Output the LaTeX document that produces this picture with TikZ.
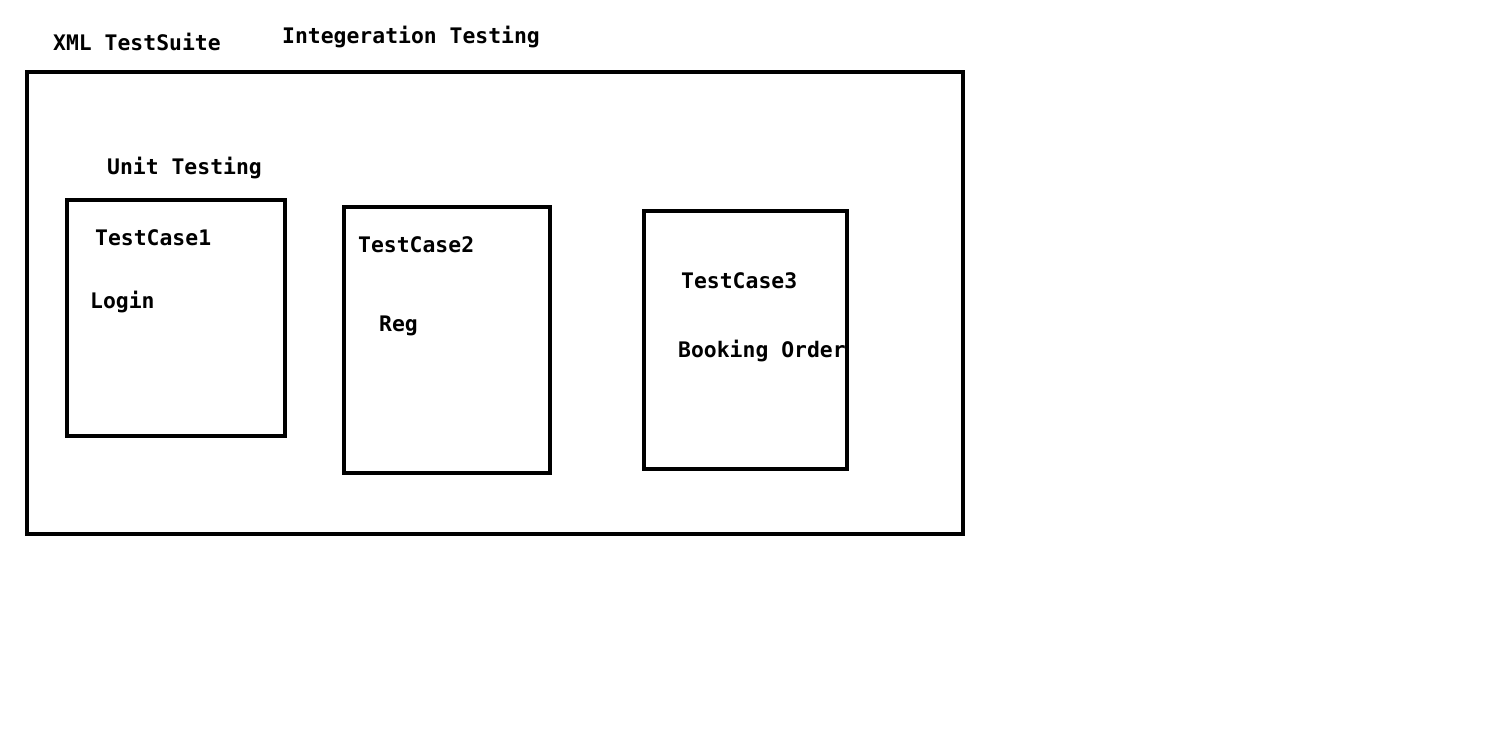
\documentclass[tikz,border=0pt]{standalone}
\usepackage{fontspec}
\newfontfamily\labelfont{DejaVu Sans Mono}
\begin{document}
\begin{tikzpicture}[x=1pt,y=-1pt,
  box/.style={draw=black,line width=4.6pt},
  lbl/.style={anchor=base west,inner sep=0pt,font=\labelfont\bfseries\fontsize{21.4}{24}\selectfont}]
\useasboundingbox[fill=white] (0,0) rectangle (1508,742);
\draw[box] (27,72) rectangle (963,534);
\draw[box] (67,200) rectangle (285,436);
\draw[box] (344,207) rectangle (550,473);
\draw[box] (644,211) rectangle (847,469);
\node[lbl] (xml) at (53,50) {XML TestSuite};
\node[lbl] (integ) at (282,43) {Integeration Testing};
\node[lbl] (unit) at (107,174) {Unit Testing};
\node[lbl] (tc1) at (95,245) {TestCase1};
\node[lbl] (login) at (90,308) {Login};
\node[lbl] (tc2) at (358,252) {TestCase2};
\node[lbl] (reg) at (379,331) {Reg};
\node[lbl] (tc3) at (681,288) {TestCase3};
\node[lbl] (book) at (678,357) {Booking Order};
\end{tikzpicture}
\end{document}
